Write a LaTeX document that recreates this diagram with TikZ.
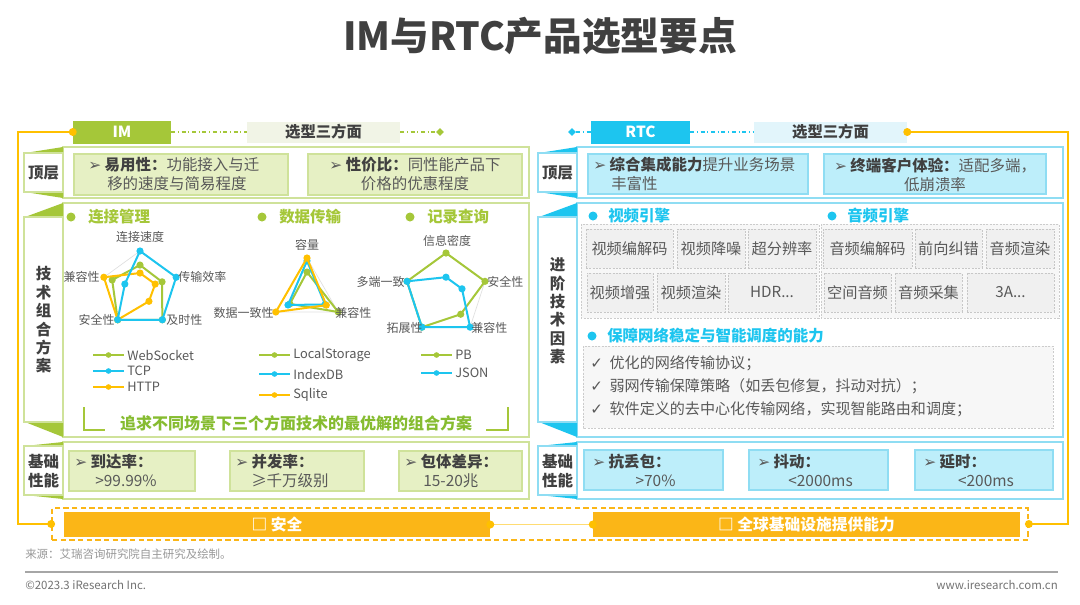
\documentclass[tikz,border=0pt]{standalone}
\usepackage{fontspec}
\setmainfont{Noto Sans CJK SC}
\newfontfamily\symfont{DejaVu Sans}
\usetikzlibrary{shapes.geometric}

\definecolor{imgreen}{HTML}{A5C739}
\definecolor{imlight}{HTML}{E6F0C4}
\definecolor{imline}{HTML}{CFE29A}
\definecolor{imsoft}{HTML}{F1F4E6}
\definecolor{deepgreen}{HTML}{86BC30}
\definecolor{rtcblue}{HTML}{1DC5EF}
\definecolor{rtclight}{HTML}{BDEEFA}
\definecolor{rtcline}{HTML}{8FDDF3}
\definecolor{rtcsoft}{HTML}{E2F5FB}
\definecolor{gold}{HTML}{FFC000}
\definecolor{barorange}{HTML}{FBB617}
\definecolor{txt}{HTML}{404040}
\definecolor{txtsoft}{HTML}{595959}

\newcommand{\pxu}{0.75pt}
\newcommand{\kw}[1]{\textbf{\color{txt}#1}}
\newcommand{\tip}{{\symfont ➢}}
\newcommand{\tick}{{\symfont ✓}}
\newcommand{\more}{...}

\tikzset{
  body/.style={inner sep=0pt, text=txtsoft, font=\fontsize{11.6}{14.3}\selectfont},
  tab/.style={inner sep=0pt, minimum height=23*\pxu, text=white, font=\fontsize{11.5}{13}\selectfont\bfseries},
  selbox/.style={inner sep=0pt, minimum height=21*\pxu, text=txt, font=\fontsize{11.5}{13}\selectfont\bfseries},
  dia/.style={diamond, inner sep=0pt, minimum size=8*\pxu},
  linkline/.style={line width=0.8pt, dash pattern=on 3pt off 2pt on 0.8pt off 2pt},
  goldline/.style={gold, line width=1.6pt},
  rowlabel/.style={inner sep=0pt, align=center, text=txt, font=\fontsize{11.6}{13.8}\selectfont\bfseries},
  imcard/.style={fill=imlight, draw=imline, line width=0.8pt},
  rtccard/.style={fill=rtclight, draw=rtcline, line width=0.8pt},
  headg/.style={inner sep=0pt, font=\fontsize{11.6}{14}\selectfont\bfseries},
  axis/.style={inner sep=0pt, text=txtsoft, font=\fontsize{9}{11}\selectfont},
  legtext/.style={inner sep=0pt, text=txtsoft, font=\fontsize{9.6}{11}\selectfont},
  radar/.style={line width=1.5pt, line join=round},
  radargrid/.style={draw=black!12, line width=0.5pt},
  cell/.style={draw=black!22, dash pattern=on 1.5pt off 1pt, fill=black!6, inner sep=0pt, minimum height=39*\pxu, text=txtsoft, font=\fontsize{11.4}{13}\selectfont},
  cellwrap/.style={draw=black!20, dash pattern=on 1.5pt off 1pt, fill=black!3},
  bar/.style={fill=barorange, inner sep=0pt, minimum height=25*\pxu, text=white, font=\fontsize{11.8}{13}\selectfont\bfseries},
  foot/.style={inner sep=0pt, text=black!55, font=\fontsize{8.6}{10}\selectfont},
}

\begin{document}
\begin{tikzpicture}[x=0.75pt, y=-0.75pt]
\useasboundingbox (0,0) rectangle (1080,604);
\fill[white] (0,0) rectangle (1080,604);

% title
\node[text=txt, font=\fontsize{29}{34}\selectfont\bfseries] (title) at (540,36) {IM与RTC产品选型要点};

% frames of both panels
\foreach \x/\X/\c in {63/529/imline, 577/1063/rtcline}
  \foreach \t/\b in {147/198, 203/437, 442/499}
    \draw[\c, fill=white, line width=0.9pt] (\x,\t) rectangle (\X,\b);
\foreach \x/\c/\w in {24/imline/imgreen, 538/rtcline/rtcblue}
  \foreach \mt/\lt/\lb/\mb in {147/153/192/198, 203/217/422/437, 442/446/495/499} {
    \fill[\w] (\x+1,\lt) -- (\x+39,\mt) -- (\x+39,\lt) -- cycle;
    \fill[\w] (\x+1,\lb) -- (\x+39,\mb) -- (\x+39,\lb) -- cycle;
    \draw[\c, fill=white, line width=0.9pt] (\x,\lt) rectangle (\x+39,\lb);
  }
\node[rowlabel] (imrow1) at (43.5,172.5) {顶层};
\node[rowlabel] (imrow2) at (43.5,320) {技\\术\\组\\合\\方\\案};
\node[rowlabel] (imrow3) at (43.5,471) {基础\\性能};
\node[rowlabel] (rtcrow1) at (557.5,172.5) {顶层};
\node[rowlabel] (rtcrow2) at (557.5,311) {进\\阶\\技\\术\\因\\素};
\node[rowlabel] (rtcrow3) at (557.5,471) {基础\\性能};

% header tabs
\node[tab, fill=imgreen, minimum width=98*\pxu] (imtab) at (122,132) {IM};
\node[selbox, fill=imsoft, minimum width=153*\pxu] (imsel) at (323.5,132) {选型三方面};
\node[dia, fill=imgreen] (imdia) at (440,132) {};
\draw[linkline, imgreen] (imtab) -- (imsel);
\draw[linkline, imgreen] (imsel) -- (imdia);
\node[dia, fill=rtcblue] (rtcdia) at (572,132) {};
\node[tab, fill=rtcblue, minimum width=99*\pxu] (rtctab) at (640.5,132) {RTC};
\node[selbox, fill=rtcsoft, minimum width=153*\pxu] (rtcsel) at (830.5,132) {选型三方面};
\draw[linkline, rtcblue] (rtcdia) -- (rtctab);
\draw[linkline, rtcblue] (rtctab) -- (rtcsel);

% top layer cards
\draw[imcard] (74,154) rectangle (288,195);
\node[body, anchor=west] (imtop1) at (88,165) {\tip\ \kw{易用性：}功能接入与迁};
\node[body, anchor=west] (imtop1b) at (107,184) {移的速度与简易程度};
\draw[imcard] (308,154) rectangle (522,195);
\node[body, align=center] (imtop2) at (415,174.5) {\tip\ \kw{性价比：}同性能产品下\\价格的优惠程度};
\draw[rtccard] (588,154) rectangle (808,194);
\node[body, anchor=west] (rtctop1) at (593,165) {\tip\ \kw{综合集成能力}提升业务场景};
\node[body, anchor=west] (rtctop1b) at (611,184) {丰富性};
\draw[rtccard] (824,154) rectangle (1046,194);
\node[body, align=center] (rtctop2) at (935,174.5) {\tip\ \kw{终端客户体验：}适配多端，\\低崩溃率};

% headings
\foreach \x/\t [count=\i] in {71/连接管理, 262/数据传输, 410/记录查询} {
  \fill[imgreen] (\x,217) circle (4.5);
  \node[headg, text=imgreen, anchor=west] (imh\i) at (\x+17,217) {\t};
}
\foreach \x/\y/\t [count=\i] in {593/216/视频引擎, 832/216/音频引擎, 592/336/保障网络稳定与智能调度的能力} {
  \fill[rtcblue] (\x,\y) circle (4.5);
  \node[headg, text=rtcblue, anchor=west] (rtch\i) at (\x+15,\y) {\t};
}

% radar: connection
\begin{scope}[shift={(140,289)}, y=0.75pt]
  \draw[radargrid] (90:38) -- (18:38) -- (-54:38) -- (-126:38) -- (162:38) -- cycle;
  \foreach \c/\va/\vb/\vc/\vd/\ve in {imgreen/.63/.61/1/1/.77, gold/.42/.42/.4/1/1, rtcblue/1/1/1/1/.42} {
    \draw[radar, \c] (90:\va*38) -- (18:\vb*38) -- (-54:\vc*38) -- (-126:\vd*38) -- (162:\ve*38) -- cycle;
    \foreach \v [count=\i from 0] in {\va,\vb,\vc,\vd,\ve}
      \fill[\c] (90-72*\i:\v*38) circle (3.6);
  }
\end{scope}
\node[axis] (ax1) at (140,237) {连接速度};
\node[axis, anchor=west] (ax2) at (178,277) {传输效率};
\node[axis, anchor=west] (ax3) at (166,320) {及时性};
\node[axis, anchor=east] (ax4) at (115,320) {安全性};
\node[axis, anchor=east] (ax5) at (100,277) {兼容性};

% radar: transfer
\begin{scope}[shift={(307,294)}, y=0.75pt]
  \draw[radargrid] (90:36) -- (-30:36) -- (210:36) -- cycle;
  \foreach \c/\va/\vb/\vc in {imgreen/.61/1/.55, rtcblue/.92/.58/.61, gold/1/.62/1} {
    \draw[radar, \c] (90:\va*36) -- (-30:\vb*36) -- (210:\vc*36) -- cycle;
    \foreach \v [count=\i from 0] in {\va,\vb,\vc}
      \fill[\c] (90-120*\i:\v*36) circle (3.6);
  }
\end{scope}
\node[axis] (bx1) at (307,245) {容量};
\node[axis, anchor=west] (bx2) at (335,313) {兼容性};
\node[axis, anchor=east] (bx3) at (274,313) {数据一致性};

% radar: records
\begin{scope}[shift={(446,294)}, y=0.75pt]
  \draw[radargrid] (90:41) -- (18:41) -- (-54:41) -- (-126:41) -- (162:41) -- cycle;
  \foreach \c/\va/\vb/\vc/\vd/\ve in {imgreen/1/1/.61/1/1, rtcblue/.41/.41/1/1/1} {
    \draw[radar, \c] (90:\va*41) -- (18:\vb*41) -- (-54:\vc*41) -- (-126:\vd*41) -- (162:\ve*41) -- cycle;
    \foreach \v [count=\i from 0] in {\va,\vb,\vc,\vd,\ve}
      \fill[\c] (90-72*\i:\v*41) circle (3.6);
  }
\end{scope}
\node[axis] (cx1) at (447,241) {信息密度};
\node[axis, anchor=west] (cx2) at (487,282) {安全性};
\node[axis, anchor=west] (cx3) at (471,328) {兼容性};
\node[axis, anchor=east] (cx4) at (423,328) {拓展性};
\node[axis, anchor=east] (cx5) at (405,282) {多端一致};

% legend
\foreach \x/\y/\c/\t [count=\i] in {93/355/imgreen/WebSocket, 93/371/rtcblue/TCP, 93/387/gold/HTTP, 259/355/imgreen/LocalStorage, 259/374/rtcblue/IndexDB, 259/395/gold/Sqlite, 421/355/imgreen/PB, 421/373/rtcblue/JSON} {
  \draw[\c, line width=1.5pt] (\x,\y) -- (\x+31,\y);
  \fill[\c] (\x+15.5,\y) circle (2.8);
  \node[legtext, anchor=west] (lg\i) at (\x+34,\y) {\t};
}

% bracket and motto
\draw[imgreen, line width=1.6pt] (84,407) -- (84,430) -- (105,430);
\draw[imgreen, line width=1.6pt] (486,430) -- (508,430) -- (508,407);
\node[text=deepgreen, font=\fontsize{12}{14}\selectfont\bfseries] (motto) at (296,423) {追求不同场景下三个方面技术的最优解的组合方案};

% video / audio cells
\draw[cellwrap] (581,224) rectangle (819,318);
\draw[cellwrap] (821,224) rectangle (1059,318);
\foreach \a/\b/\y/\t [count=\i] in {586/673/248.5/视频编解码, 677/745/248.5/视频降噪, 748/816/248.5/超分辨率,
    587/653/292.5/视频增强, 657/725/292.5/视频渲染, 728/816/292.5/HDR\more,
    823/912/248.5/音频编解码, 915/982/248.5/前向纠错, 986/1054/248.5/音频渲染,
    824/891/292.5/空间音频, 895/962/292.5/音频采集, 967/1054/292.5/3A\more}
  \node[cell, minimum width=(\b-\a)*\pxu] (cell\i) at ({(\a+\b)/2},\y) {\t};

% network list
\draw[cellwrap] (583,346) rectangle (1053,428);
\foreach \y/\t [count=\i] in {363/优化的网络传输协议；, 386/弱网传输保障策略（如丢包修复，抖动对抗）；, 409/软件定义的去中心化传输网络，实现智能路由和调度；}
  \node[body, anchor=west, font=\fontsize{11.3}{13}\selectfont] (net\i) at (590,\y) {\tick\ \ \t};

% base performance
\foreach \a/\b/\k/\v/\o [count=\i] in {69/195/到达率：/{>99.99\%}/95, 230/364/并发率：/{≥千万级别}/251, 399/522/包体差异：/{15-20兆}/423} {
  \draw[imcard] (\a,451) rectangle (\b,491);
  \node[body, anchor=west] (imkey\i) at (\a+5,462) {\tip\ \kw{\k}};
  \node[body, anchor=west] (imval\i) at (\o,481) {\v};
}
\foreach \a/\b/\k/\v [count=\i] in {584/723/抗丢包：/{>70\%}, 749/888/抖动：/{<2000ms}, 915/1053/延时：/{<200ms}} {
  \draw[rtccard] (\a,450) rectangle (\b,490);
  \node[body, anchor=west] (rtckey\i) at (\a+8,462) {\tip\ \kw{\k}};
  \node[body] (rtcval\i) at ({(\a+\b)/2+2},481) {\v};
}

% infrastructure bars and gold frame
\node[draw=barorange, line width=1.3pt, dash pattern=on 4pt off 2.5pt, minimum width=976*\pxu, minimum height=32*\pxu, inner sep=0pt] (basebox) at (540,524) {};
\node[bar, minimum width=426*\pxu] (safebar) at (277,524.5) {□ 安全};
\node[bar, minimum width=427*\pxu] (infrabar) at (806.5,524.5) {□ 全球基础设施提供能力};
\coordinate (lc) at (18,132);
\coordinate (rc) at (1068,132);
\draw[goldline] (imtab.west) -- (lc) |- (basebox.west);
\draw[goldline] (rtcsel.east) -- (rc) |- (basebox.east);
\draw[gold!55, line width=1.2pt] (safebar.east) -- (infrabar.west);
\foreach \p in {imtab.west, rtcsel.east, basebox.west, basebox.east, safebar.east, infrabar.west}
  \fill[gold] (\p) circle (4);

% footer
\node[foot, anchor=west, text=black!40] (source) at (25,554) {来源：艾瑞咨询研究院自主研究及绘制。};
\draw[black!35, line width=1.2pt] (25,572) -- (1058,572);
\node[foot, anchor=west] (copy) at (25,585) {©2023.3 iResearch Inc.};
\node[foot, anchor=east] (site) at (1058,585) {www.iresearch.com.cn};
\end{tikzpicture}
\end{document}
